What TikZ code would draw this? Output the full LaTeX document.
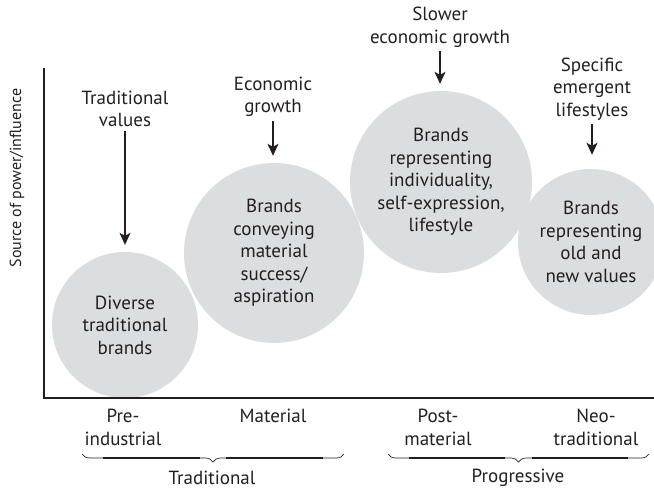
\documentclass[tikz,border=0pt]{standalone}
\usepackage{fontspec}
\setmainfont{PT Sans}
\usetikzlibrary{arrows.meta,decorations.pathreplacing,calc}
\definecolor{bubblegrey}{RGB}{220,221,222}
\definecolor{ink}{RGB}{35,31,32}

\begin{document}
\begin{tikzpicture}[x=1pt,y=-1pt,
  lbl/.style={font=\fontsize{19}{22.5}\selectfont, text=ink, align=center, inner sep=1pt},
  bubble/.style={circle, fill=bubblegrey, lbl, minimum size=#1, inner sep=0pt},
  push/.style={draw=ink, line width=1.1pt, shorten >=7pt, shorten <=3pt,
    -{Stealth[length=12pt,width=11pt,inset=3pt]}},
  bracket/.style={decorate, draw=ink, line width=0.7pt,
    decoration={brace, mirror, amplitude=8pt}},
  bracketbar/.style={draw=ink, line width=1.7pt}]%
\clip (0,0) rectangle (654,490);%
% the four brand groups
\node[bubble=146] (c1) at (125,325) {Diverse\\traditional\\brands};%
\node[bubble=180] (c2) at (274,253) {Brands\\conveying\\material\\success/\\aspiration};%
\node[bubble=182] (c3) at (441,182) {Brands\\representing\\individuality,\\self-expression,\\lifestyle};%
\node[bubble=146] (c4) at (591,242) {Brands\\representing\\old and\\new values};%
% axes
\draw[ink, line width=1.4pt] (44,68) -- (44,398) -- (654,398);%
\node[lbl, rotate=90, font=\fontsize{16}{18}\selectfont] (yaxis) at (17,178) {Source of power/influence};%
% drivers
\node[lbl] (d1) at (125,109) {Traditional\\values};%
\node[lbl] (d2) at (273,97) {Economic\\growth};%
\node[lbl] (d3) at (440,27) {Slower\\economic growth};%
\node[lbl] (d4) at (592,89) {Specific\\emergent\\lifestyles};%
\draw[push] (d1.south) -- (d1.south |- c1.north);%
\draw[push] (d2.south) -- (d2.south |- c2.north);%
\draw[push] (d3.south) -- (d3.south |- c3.north);%
\draw[push, shorten >=14pt] (d4.south) -- (d4.south |- c4.north);%
% stages along the axis
\node[lbl, anchor=north] (s1) at (123,408) {Pre-\\industrial};%
\node[lbl, anchor=north] (s2) at (273,408) {Material};%
\node[lbl, anchor=north] (s3) at (438,408) {Post-\\material};%
\node[lbl, anchor=north] (s4) at (596,408) {Neo-\\traditional};%
\coordinate (b1) at (82,454);%
\coordinate (b2) at (344,454);%
\coordinate (b3) at (388,454);%
\coordinate (b4) at (649,454);%
% braces: thin curls, heavier straight runs
\foreach \l/\r in {b1/b2,b3/b4} {%
  \draw[bracket] (\l) -- (\r);%
  \draw[bracketbar] ($(\l)!0.08!(\r)+(0,4)$) -- ($(\l)!0.45!(\r)+(0,4)$);%
  \draw[bracketbar] ($(\l)!0.55!(\r)+(0,4)$) -- ($(\l)!0.92!(\r)+(0,4)$);%
}%
\node[lbl] (g1) at (212,478) {Traditional};%
\node[lbl] (g2) at (518,478) {Progressive};%
\end{tikzpicture}
\end{document}
